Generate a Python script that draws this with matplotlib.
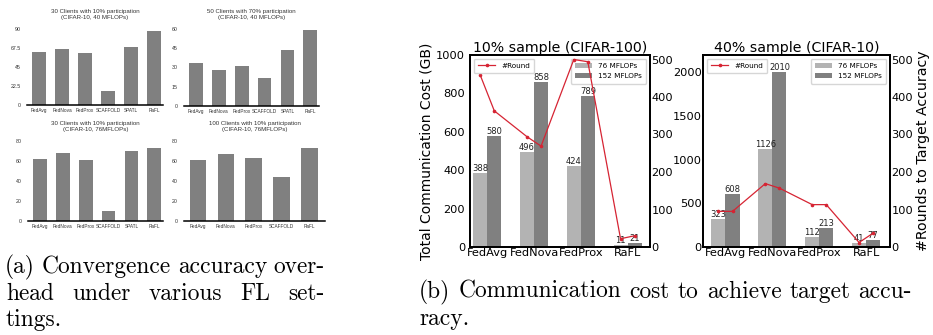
import matplotlib
matplotlib.use("Agg")
import matplotlib.pyplot as plt
import numpy as np

# ---------------- data ----------------
methods6 = ["FedAvg", "FedNova", "FedProx", "SCAFFOLD", "SPATL", "RaFL"]
methods5 = ["FedAvg", "FedNova", "FedProx", "SCAFFOLD", "RaFL"]
acc_30c_40m = [63.2, 66.3, 62.0, 17.0, 68.7, 87.6]
acc_50c_40m = [33.4, 28.4, 30.8, 22.1, 43.4, 59.2]
acc_30c_76m = [62, 68, 61, 10, 70, 73]
acc_100c_76m = [61, 67, 63, 44, 73]
titles_small = ["30 Clients with 10% participation\n(CIFAR-10, 40 MFLOPs)",
                "50 Clients with 70% participation\n(CIFAR-10, 40 MFLOPs)",
                "30 Clients with 10% participation\n(CIFAR-10, 76MFLOPs)",
                "100 Clients with 10% participation\n(CIFAR-10, 76MFLOPs)"]
yticks_small = [[0, 22.5, 45, 67.5, 90], [0, 15, 30, 45, 60],
                [0, 20, 40, 60, 80], [0, 20, 40, 60, 80]]
yticklabels_small = [["0", "22.5", "45", "67.5", "90"], ["0", "15", "30", "45", "60"],
                     ["0", "20", "40", "60", "80"], ["0", "20", "40", "60", "80"]]

methods4 = ["FedAvg", "FedNova", "FedProx", "RaFL"]
cost_c100_76 = [388, 496, 424, 11]
cost_c100_152 = [580, 858, 789, 21]
cost_c10_76 = [323, 1126, 112, 41]
cost_c10_152 = [608, 2010, 213, 77]
rounds_c100 = [458, 363, 294, 269, 500, 494, 22, 30]
rounds_c10 = [95, 95, 169, 157, 113, 113, 12, 37]

caption_a = ["(a) Convergence accuracy over-", "head under various FL set-", "tings."]
caption_b = ["(b) Communication cost to achieve target accu-", "racy."]

# ---------------- layout helpers ----------------
W, H = 933, 335
fig = plt.figure(figsize=(W / 100, H / 100), dpi=100)

def rect(x0, y0, x1, y1):
    return [x0 / W, 1 - y1 / H, (x1 - x0) / W, (y1 - y0) / H]

SMALL_FONT = "Liberation Sans"

def small_bar(r, cats, vals, title, yt, ytl, xlim):
    ax = fig.add_axes(r)
    x = np.arange(len(cats))
    ax.bar(x, vals, width=0.6, color="#808080")
    ax.set_xlim(*xlim)
    ax.set_ylim(yt[0], yt[-1])
    ax.set_yticks(yt)
    ax.set_yticklabels(ytl, fontsize=3.8, family=SMALL_FONT, color="#333333")
    ax.set_xticks(x)
    ax.set_xticklabels(cats, fontsize=3.4, family=SMALL_FONT, color="#333333")
    ax.tick_params(axis="both", length=0)
    ax.tick_params(axis="y", pad=4.5)
    ax.tick_params(axis="x", pad=2)
    for s in ["top", "right", "left"]:
        ax.spines[s].set_visible(False)
    ax.spines["bottom"].set_linewidth(1.1)
    ax.set_title(title, fontsize=4.4, family=SMALL_FONT, color="#333333", pad=7,
                 linespacing=1.3)
    ax.set_facecolor("none")
    return ax

small_bar(rect(27, 29, 163, 105), methods6, acc_30c_40m, titles_small[0],
          yticks_small[0], yticklabels_small[0], (-0.52, 5.38))
small_bar(rect(184, 29, 319, 106), methods6, acc_50c_40m, titles_small[1],
          yticks_small[1], yticklabels_small[1], (-0.52, 5.38))
small_bar(rect(28, 141, 163, 221), methods6, acc_30c_76m, titles_small[2],
          yticks_small[2], yticklabels_small[2], (-0.52, 5.38))
small_bar(rect(184, 141, 325, 221), methods5, acc_100c_76m, titles_small[3],
          yticks_small[3], yticklabels_small[3], (-0.5, 4.55))

# ---------------- communication cost panels ----------------
LIGHT = "#b3b3b3"
DARK = "#808080"
RED = "#d62433"
BW = 0.3
TICK_FS = 8.2

def cost_panel(r, v76, v152, rounds, ylim, yt, xlim, title, left_label, right_label,
               lpad):
    ax = fig.add_axes(r)
    x = np.arange(len(methods4))
    b1 = ax.bar(x - BW / 2, v76, width=BW, color=LIGHT, label="76 MFLOPs")
    b2 = ax.bar(x + BW / 2, v152, width=BW, color=DARK, label="152 MFLOPs")
    for bars, vals in ((b1, v76), (b2, v152)):
        for b, v in zip(bars, vals):
            ax.text(b.get_x() + b.get_width() / 2, v, str(v), ha="center", va="bottom",
                    fontsize=6, color="#222222")
    ax.set_xlim(*xlim)
    ax.set_ylim(*ylim)
    ax.set_yticks(yt)
    ax.set_xticks(x)
    ax.set_xticklabels(methods4, fontsize=TICK_FS)
    ax.tick_params(axis="y", labelsize=TICK_FS, length=0, pad=lpad)
    ax.tick_params(axis="x", length=0, pad=1)
    ax.set_title(title, fontsize=10.2, pad=2)
    if left_label:
        ax.set_ylabel(left_label, fontsize=10, labelpad=2)
    for s in ax.spines.values():
        s.set_linewidth(1.3)
    ax.legend(loc="upper right", fontsize=5.2, handlelength=2.4,
              borderpad=0.6, labelspacing=0.6)
    ax2 = ax.twinx()
    xs = np.ravel(np.column_stack([x - BW / 2, x + BW / 2]))
    ax2.plot(xs, rounds, color=RED, lw=0.9, marker="o", ms=1.6, label="#Round")
    ax2.set_ylim(0, 512)
    ax2.set_yticks([0, 100, 200, 300, 400, 500])
    ax2.tick_params(axis="y", labelsize=TICK_FS, length=0, pad=1)
    if right_label:
        ax2.set_ylabel(right_label, fontsize=10.2, labelpad=2)
    for s in ax2.spines.values():
        s.set_linewidth(1.3)
    ax2.legend(loc="upper left", fontsize=5.2, handlelength=2.4, borderpad=0.6)
    return ax, ax2

cost_panel(rect(470, 55, 650, 247), cost_c100_76, cost_c100_152, rounds_c100,
           (0, 1000), [0, 200, 400, 600, 800, 1000], (-0.37, 3.48),
           "10% sample (CIFAR-100)", "Total Communication Cost (GB)", None, 3.5)
cost_panel(rect(703, 55, 890, 247), cost_c10_76, cost_c10_152, rounds_c10,
           (0, 2200), [0, 500, 1000, 1500, 2000], (-0.48, 3.51),
           "40% sample (CIFAR-10)", None, "#Rounds to Target Accuracy", 1)

# ---------------- captions (justified) ----------------
CAP_FONT = "cmr10"
fig.canvas.draw()
renderer = fig.canvas.get_renderer()

def text_width(s, size):
    t = fig.text(0, 0, s, fontsize=size, family=CAP_FONT)
    w = t.get_window_extent(renderer).width
    t.remove()
    return w

# scale caption size so that line 1 of (b) has its natural width in the reference
CAP_SIZE = 10 * 490 / text_width(caption_b[0], 10)

def justified(line, x0, x1, yb):
    words = line.split(" ")
    widths = [text_width(w, CAP_SIZE) for w in words]
    gap = ((x1 - x0) - sum(widths)) / (len(words) - 1) if len(words) > 1 else 0
    x = x0
    for w, wd in zip(words, widths):
        fig.text(x / W, 1 - yb / H, w, fontsize=CAP_SIZE, family=CAP_FONT,
                 ha="left", va="baseline")
        x += wd + gap

def plain(line, x0, yb):
    fig.text(x0 / W, 1 - yb / H, line, fontsize=CAP_SIZE, family=CAP_FONT,
             ha="left", va="baseline")

justified(caption_a[0], 5, 325, 273)
justified(caption_a[1], 6, 325, 300)
plain(caption_a[2], 6, 326)
justified(caption_b[0], 419, 912, 298)
plain(caption_b[1], 419, 325)

fig.savefig("out.png", dpi=100)
